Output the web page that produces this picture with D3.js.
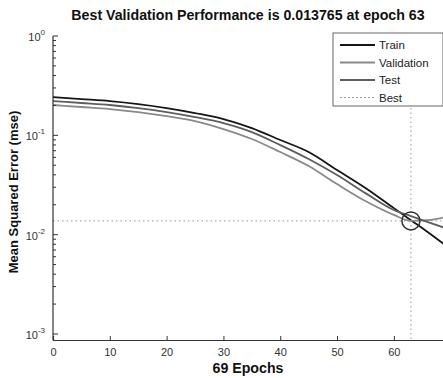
<!DOCTYPE html>
<html>
<head>
<meta charset="utf-8">
<script src="https://cdn.jsdelivr.net/npm/d3@7"></script>
<style>
  body { margin: 0; background: #fff; }
  svg { display: block; font-family: "Liberation Sans", Arial, sans-serif; }
</style>
</head>
<body>
<svg width="443" height="378"></svg>
<script>
var epochs = [0, 5, 10, 15, 20, 25, 30, 35, 40, 45, 50, 55, 60, 63, 66, 69]

var trainErr = [0.2430, 0.2320, 0.2215, 0.2066, 0.1883, 0.1677, 0.1459, 0.1184,
                0.0897, 0.0679, 0.0447, 0.0295, 0.0185, 0.0140, 0.0106, 0.0079]
var validErr = [0.2019, 0.1928, 0.1840, 0.1716, 0.1564, 0.1393, 0.1157, 0.0918,
                0.0679, 0.0491, 0.0323, 0.0218, 0.0158, 0.013765, 0.0140, 0.0150]
var testErr  = [0.2215, 0.2115, 0.2019, 0.1883, 0.1716, 0.1529, 0.1330, 0.1079,
                0.0798, 0.0577, 0.0398, 0.0262, 0.0177, 0.0154, 0.0134, 0.0117]

var bestEpoch = 63
var bestPerf = 0.013765
var xTicks = [0, 10, 20, 30, 40, 50, 60]
var yTicks = [1e-3, 1e-2, 1e-1, 1]
var yExp = ["-3", "-2", "-1", "0"]

var series = [
  { name: "Train", values: trainErr, color: "#151515" },
  { name: "Validation", values: validErr, color: "#8a8a8a" },
  { name: "Test", values: testErr, color: "#5e5e5e" }
]

var svg = d3.select("svg")

var x = d3.scaleLinear().domain([0, 69]).range([53, 445])
var y = d3.scaleLog().domain([0.00087, 1]).range([340, 36])

var axisCol = "#333"

// best markers (dotted)
svg.append("line")
    .attr("x1", x(0)).attr("x2", x(69))
    .attr("y1", y(bestPerf)).attr("y2", y(bestPerf))
    .attr("stroke", "#999").attr("stroke-width", 1)
    .attr("stroke-dasharray", "1.5,3")
svg.append("line")
    .attr("x1", x(bestEpoch)).attr("x2", x(bestEpoch))
    .attr("y1", y(1)).attr("y2", y.range()[0])
    .attr("stroke", "#999").attr("stroke-width", 1)
    .attr("stroke-dasharray", "1.5,3")

// curves
var line = d3.line()
    .x(function(d, i) { return x(epochs[i]) })
    .y(function(d) { return y(d) })
    .curve(d3.curveMonotoneX)

svg.append("g")
  .selectAll("path")
  .data(series)
  .enter().append("path")
    .attr("d", function(d) { return line(d.values) })
    .attr("fill", "none")
    .attr("stroke", function(d) { return d.color })
    .attr("stroke-width", 1.8)

svg.append("circle")
    .attr("cx", x(bestEpoch)).attr("cy", y(bestPerf))
    .attr("r", 9)
    .attr("fill", "none")
    .attr("stroke", "#333").attr("stroke-width", 1.5)

// x axis
var xAxis = d3.axisBottom(x)
    .tickValues(xTicks)
    .tickSize(-4)
    .tickPadding(8)
var gx = svg.append("g")
    .attr("transform", "translate(0," + y.range()[0] + ")")
    .call(xAxis)
gx.select(".domain").attr("stroke", axisCol).attr("stroke-width", 1.2)
gx.selectAll(".tick line").attr("stroke", axisCol)
gx.selectAll(".tick text")
    .attr("font-size", 11).attr("fill", "#333")
    .attr("font-family", "Liberation Sans, Arial, sans-serif")

// y axis with minor log ticks
var minor = []
for (var e = -3; e < 0; e++) {
  for (var k = 2; k <= 9; k++) minor.push(k * Math.pow(10, e))
}
var gy = svg.append("g")
    .attr("transform", "translate(" + x(0) + ",0)")
gy.append("line")
    .attr("y1", y(1)).attr("y2", y.range()[0])
    .attr("stroke", axisCol).attr("stroke-width", 1.2)
gy.selectAll(".minor")
  .data(minor)
  .enter().append("line")
    .attr("class", "minor")
    .attr("x1", 0).attr("x2", 3)
    .attr("y1", function(d) { return y(d) })
    .attr("y2", function(d) { return y(d) })
    .attr("stroke", axisCol)
var major = gy.selectAll(".major")
  .data(yTicks)
  .enter().append("g")
    .attr("class", "major")
    .attr("transform", function(d) { return "translate(0," + y(d) + ")" })
major.append("line")
    .attr("x1", 0).attr("x2", 5)
    .attr("stroke", axisCol)
var lbl = major.append("text")
    .attr("x", -8).attr("y", 5)
    .attr("text-anchor", "end")
    .attr("font-size", 11).attr("fill", "#333")
lbl.append("tspan").text("10")
lbl.append("tspan")
    .attr("font-size", 8)
    .attr("dy", -6)
    .text(function(d, i) { return yExp[i] })

// titles
svg.append("text")
    .attr("x", 248).attr("y", 20)
    .attr("text-anchor", "middle")
    .attr("font-size", 14.2).attr("font-weight", "bold").attr("fill", "#111")
    .text("Best Validation Performance is 0.013765 at epoch 63")

svg.append("text")
    .attr("x", 248).attr("y", 373)
    .attr("text-anchor", "middle")
    .attr("font-size", 14.2).attr("font-weight", "bold").attr("fill", "#111")
    .text("69 Epochs")

svg.append("text")
    .attr("transform", "translate(18,192) rotate(-90)")
    .attr("text-anchor", "middle")
    .attr("font-size", 13).attr("font-weight", "bold").attr("fill", "#111")
    .text("Mean Squared Error  (mse)")

// legend
var legend = svg.append("g").attr("transform", "translate(333,33)")
legend.append("rect")
    .attr("width", 110).attr("height", 73)
    .attr("fill", "#fff").attr("stroke", "#666").attr("stroke-width", 1)
var items = series.map(function(s) { return { name: s.name, color: s.color, dash: null } })
items.push({ name: "Best", color: "#999", dash: "2,2" })
var li = legend.selectAll(".item")
  .data(items)
  .enter().append("g")
    .attr("transform", function(d, i) { return "translate(0," + (12 + i * 17.5) + ")" })
li.append("line")
    .attr("x1", 7).attr("x2", 42)
    .attr("stroke", function(d) { return d.color })
    .attr("stroke-width", function(d) { return d.dash ? 1 : 1.8 })
    .attr("stroke-dasharray", function(d) { return d.dash })
li.append("text")
    .attr("x", 46).attr("y", 4)
    .attr("font-size", 11.5).attr("fill", "#222")
    .text(function(d) { return d.name })
</script>
</body>
</html>
